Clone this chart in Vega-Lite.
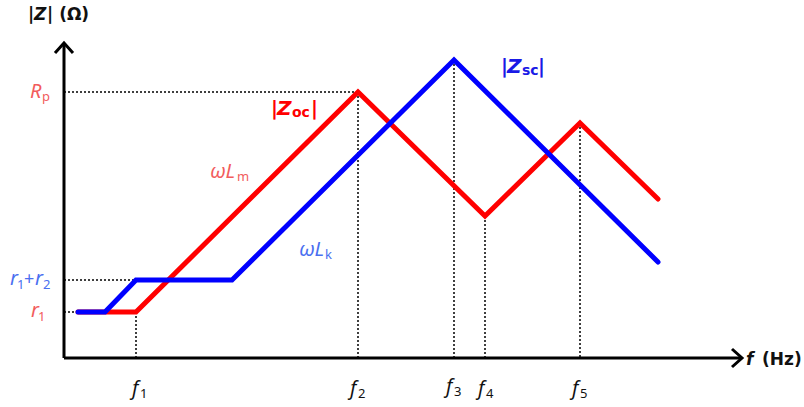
{
  "$schema": "https://vega.github.io/schema/vega-lite/v6.json",
  "width": 804,
  "height": 407,
  "padding": 0,
  "autosize": {"type": "fit", "contains": "padding"},
  "background": "white",
  "config": {"view": {"stroke": null}},
  "datasets": {
    "curves": [
      {"series": "oc", "i": 0, "x": 78, "y": 312},
      {"series": "oc", "i": 1, "x": 136, "y": 312},
      {"series": "oc", "i": 2, "x": 358, "y": 92},
      {"series": "oc", "i": 3, "x": 485, "y": 216},
      {"series": "oc", "i": 4, "x": 580, "y": 123},
      {"series": "oc", "i": 5, "x": 658, "y": 199},
      {"series": "sc", "i": 0, "x": 78, "y": 312},
      {"series": "sc", "i": 1, "x": 105, "y": 312},
      {"series": "sc", "i": 2, "x": 136, "y": 280},
      {"series": "sc", "i": 3, "x": 232, "y": 280},
      {"series": "sc", "i": 4, "x": 454, "y": 60},
      {"series": "sc", "i": 5, "x": 658, "y": 262}
    ],
    "guides": [
      {"x": 64, "y": 92, "x2": 358, "y2": 92},
      {"x": 64, "y": 280, "x2": 136, "y2": 280},
      {"x": 64, "y": 312, "x2": 78, "y2": 312},
      {"x": 136, "y": 312, "x2": 136, "y2": 358},
      {"x": 358, "y": 92, "x2": 358, "y2": 358},
      {"x": 454, "y": 60, "x2": 454, "y2": 358},
      {"x": 485, "y": 216, "x2": 485, "y2": 358},
      {"x": 580, "y": 123, "x2": 580, "y2": 358}
    ],
    "axes": [
      {"x": 64, "y": 358, "x2": 742, "y2": 358},
      {"x": 64, "y": 358, "x2": 64, "y2": 43}
    ],
    "arrows": [
      {"a": "y", "i": 0, "x": 55, "y": 53},
      {"a": "y", "i": 1, "x": 64, "y": 43},
      {"a": "y", "i": 2, "x": 73, "y": 53},
      {"a": "x", "i": 0, "x": 732, "y": 349},
      {"a": "x", "i": 1, "x": 742, "y": 358},
      {"a": "x", "i": 2, "x": 732, "y": 367}
    ],
    "labels": [
      {"t": "|", "kind": "b", "tone": "black", "x": 28, "y": 15},
      {"t": "Z", "kind": "bi", "tone": "black", "x": 34, "y": 15},
      {"t": "| (Ω)", "kind": "b", "tone": "black", "x": 47, "y": 15},
      {"t": "f", "kind": "bi", "tone": "black", "x": 746, "y": 360},
      {"t": "(Hz)", "kind": "b", "tone": "black", "x": 762, "y": 360},
      {"t": "R", "kind": "it", "tone": "lightred", "x": 30, "y": 92},
      {"t": "p", "kind": "sub", "tone": "lightred", "x": 42, "y": 97},
      {"t": "r", "kind": "it", "tone": "lightblue", "x": 10, "y": 279},
      {"t": "1", "kind": "sub", "tone": "lightblue", "x": 17, "y": 285},
      {"t": "+", "kind": "plain", "tone": "lightblue", "x": 24, "y": 280},
      {"t": "r", "kind": "it", "tone": "lightblue", "x": 35, "y": 279},
      {"t": "2", "kind": "sub", "tone": "lightblue", "x": 43, "y": 285},
      {"t": "r", "kind": "it", "tone": "lightred", "x": 31, "y": 311},
      {"t": "1", "kind": "sub", "tone": "lightred", "x": 38, "y": 317},
      {"t": "f", "kind": "it", "tone": "black", "x": 132, "y": 389},
      {"t": "1", "kind": "sub", "tone": "black", "x": 140, "y": 394},
      {"t": "f", "kind": "it", "tone": "black", "x": 350, "y": 389},
      {"t": "2", "kind": "sub", "tone": "black", "x": 358, "y": 394},
      {"t": "f", "kind": "it", "tone": "black", "x": 446, "y": 387},
      {"t": "3", "kind": "sub", "tone": "black", "x": 454, "y": 392},
      {"t": "f", "kind": "it", "tone": "black", "x": 478, "y": 389},
      {"t": "4", "kind": "sub", "tone": "black", "x": 486, "y": 394},
      {"t": "f", "kind": "it", "tone": "black", "x": 572, "y": 389},
      {"t": "5", "kind": "sub", "tone": "black", "x": 580, "y": 394},
      {"t": "|", "kind": "bl", "tone": "red", "x": 271, "y": 109},
      {"t": "Z", "kind": "bli", "tone": "red", "x": 277, "y": 109},
      {"t": "oc", "kind": "bsub", "tone": "red", "x": 292, "y": 113},
      {"t": "|", "kind": "bl", "tone": "red", "x": 311, "y": 109},
      {"t": "|", "kind": "bl", "tone": "blue", "x": 501, "y": 67},
      {"t": "Z", "kind": "bli", "tone": "blue", "x": 507, "y": 67},
      {"t": "sc", "kind": "bsub", "tone": "blue", "x": 522, "y": 71},
      {"t": "|", "kind": "bl", "tone": "blue", "x": 538, "y": 67},
      {"t": "ωL", "kind": "it", "tone": "lightred", "x": 210, "y": 172},
      {"t": "m", "kind": "sub", "tone": "lightred", "x": 237, "y": 177},
      {"t": "ωL", "kind": "it", "tone": "lightblue", "x": 299, "y": 250},
      {"t": "k", "kind": "sub", "tone": "lightblue", "x": 325, "y": 255}
    ]
  },
  "layer": [
    {
      "data": {"name": "guides"},
      "mark": {"type": "rule", "color": "black", "strokeWidth": 1.5, "strokeDash": [2, 2]},
      "encoding": {
        "x": {"field": "x", "type": "quantitative", "scale": {"domain": [0, 804], "nice": false, "zero": false}, "axis": null},
        "y": {"field": "y", "type": "quantitative", "scale": {"domain": [0, 407], "nice": false, "zero": false, "reverse": true}, "axis": null},
        "x2": {"field": "x2"},
        "y2": {"field": "y2"}
      }
    },
    {
      "data": {"name": "axes"},
      "mark": {"type": "rule", "color": "black", "strokeWidth": 3},
      "encoding": {
        "x": {"field": "x", "type": "quantitative"},
        "y": {"field": "y", "type": "quantitative"},
        "x2": {"field": "x2"},
        "y2": {"field": "y2"}
      }
    },
    {
      "data": {"name": "arrows"},
      "mark": {"type": "line", "color": "black", "strokeWidth": 3, "strokeJoin": "miter", "strokeCap": "butt"},
      "encoding": {
        "x": {"field": "x", "type": "quantitative"},
        "y": {"field": "y", "type": "quantitative"},
        "detail": {"field": "a"},
        "order": {"field": "i"}
      }
    },
    {
      "data": {"name": "curves"},
      "transform": [{"filter": "datum.series === 'oc'"}],
      "mark": {"type": "line", "color": "#ff0000", "strokeWidth": 5, "strokeJoin": "miter", "strokeCap": "round"},
      "encoding": {
        "x": {"field": "x", "type": "quantitative"},
        "y": {"field": "y", "type": "quantitative"},
        "order": {"field": "i"}
      }
    },
    {
      "data": {"name": "curves"},
      "transform": [{"filter": "datum.series === 'sc'"}],
      "mark": {"type": "line", "color": "#0000ff", "strokeWidth": 5, "strokeJoin": "miter", "strokeCap": "round"},
      "encoding": {
        "x": {"field": "x", "type": "quantitative"},
        "y": {"field": "y", "type": "quantitative"},
        "order": {"field": "i"}
      }
    },
    {
      "data": {"name": "labels"},
      "transform": [{"filter": "datum.kind === 'it'"}],
      "mark": {"type": "text", "align": "left", "baseline": "middle", "font": "Noto Sans", "fontSize": 20, "fontStyle": "italic"},
      "encoding": {
        "x": {"field": "x", "type": "quantitative"},
        "y": {"field": "y", "type": "quantitative"},
        "text": {"field": "t"},
        "color": {"field": "tone", "type": "nominal", "legend": null, "scale": {"domain": ["black", "lightred", "lightblue", "red", "blue"], "range": ["#111111", "#f25c5c", "#4a6ff0", "#ff0000", "#1a1ae6"]}}
      }
    },
    {
      "data": {"name": "labels"},
      "transform": [{"filter": "datum.kind === 'sub'"}],
      "mark": {"type": "text", "align": "left", "baseline": "middle", "font": "Noto Sans", "fontSize": 13},
      "encoding": {
        "x": {"field": "x", "type": "quantitative"},
        "y": {"field": "y", "type": "quantitative"},
        "text": {"field": "t"},
        "color": {"field": "tone", "type": "nominal", "legend": null}
      }
    },
    {
      "data": {"name": "labels"},
      "transform": [{"filter": "datum.kind === 'plain'"}],
      "mark": {"type": "text", "align": "left", "baseline": "middle", "font": "Noto Sans", "fontSize": 18},
      "encoding": {
        "x": {"field": "x", "type": "quantitative"},
        "y": {"field": "y", "type": "quantitative"},
        "text": {"field": "t"},
        "color": {"field": "tone", "type": "nominal", "legend": null}
      }
    },
    {
      "data": {"name": "labels"},
      "transform": [{"filter": "datum.kind === 'b'"}],
      "mark": {"type": "text", "align": "left", "baseline": "middle", "font": "DejaVu Sans", "fontSize": 17, "fontWeight": "bold"},
      "encoding": {
        "x": {"field": "x", "type": "quantitative"},
        "y": {"field": "y", "type": "quantitative"},
        "text": {"field": "t"},
        "color": {"field": "tone", "type": "nominal", "legend": null}
      }
    },
    {
      "data": {"name": "labels"},
      "transform": [{"filter": "datum.kind === 'bi'"}],
      "mark": {"type": "text", "align": "left", "baseline": "middle", "font": "DejaVu Sans", "fontSize": 17, "fontWeight": "bold", "fontStyle": "italic"},
      "encoding": {
        "x": {"field": "x", "type": "quantitative"},
        "y": {"field": "y", "type": "quantitative"},
        "text": {"field": "t"},
        "color": {"field": "tone", "type": "nominal", "legend": null}
      }
    },
    {
      "data": {"name": "labels"},
      "transform": [{"filter": "datum.kind === 'bl'"}],
      "mark": {"type": "text", "align": "left", "baseline": "middle", "font": "DejaVu Sans", "fontSize": 19, "fontWeight": "bold"},
      "encoding": {
        "x": {"field": "x", "type": "quantitative"},
        "y": {"field": "y", "type": "quantitative"},
        "text": {"field": "t"},
        "color": {"field": "tone", "type": "nominal", "legend": null}
      }
    },
    {
      "data": {"name": "labels"},
      "transform": [{"filter": "datum.kind === 'bli'"}],
      "mark": {"type": "text", "align": "left", "baseline": "middle", "font": "DejaVu Sans", "fontSize": 20, "fontWeight": "bold", "fontStyle": "italic"},
      "encoding": {
        "x": {"field": "x", "type": "quantitative"},
        "y": {"field": "y", "type": "quantitative"},
        "text": {"field": "t"},
        "color": {"field": "tone", "type": "nominal", "legend": null}
      }
    },
    {
      "data": {"name": "labels"},
      "transform": [{"filter": "datum.kind === 'bsub'"}],
      "mark": {"type": "text", "align": "left", "baseline": "middle", "font": "DejaVu Sans", "fontSize": 14, "fontWeight": "bold"},
      "encoding": {
        "x": {"field": "x", "type": "quantitative"},
        "y": {"field": "y", "type": "quantitative"},
        "text": {"field": "t"},
        "color": {"field": "tone", "type": "nominal", "legend": null}
      }
    }
  ]
}
